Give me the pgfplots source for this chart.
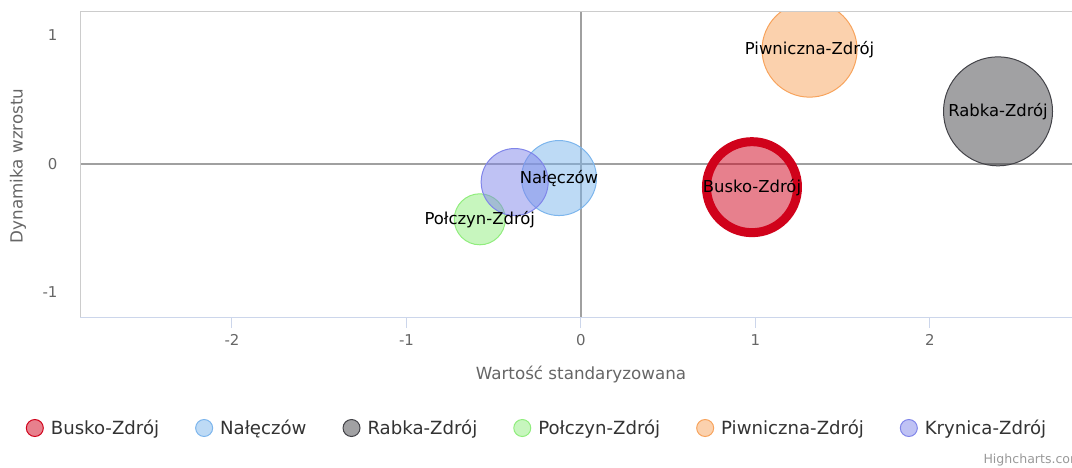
\documentclass[border=0pt]{standalone}
\usepackage{fontspec}
\setmainfont{DejaVu Sans}
\usepackage{pgfplots}
\pgfplotsset{compat=1.18}

\definecolor{busko}{RGB}{208,2,27}
\definecolor{naleczow}{RGB}{124,181,236}
\definecolor{rabka}{RGB}{67,67,72}
\definecolor{polczyn}{RGB}{144,237,125}
\definecolor{piwniczna}{RGB}{247,163,92}
\definecolor{krynica}{RGB}{128,133,233}
\definecolor{ticktext}{RGB}{102,102,102}
\definecolor{legtext}{RGB}{51,51,51}
\definecolor{frame}{RGB}{204,204,204}
\definecolor{xaxis}{RGB}{204,214,235}
\definecolor{zeroline}{RGB}{160,160,160}

\begin{document}
\begin{tikzpicture}
\path[use as bounding box] (0bp,0bp) rectangle (1072bp,468bp);
\begin{axis}[
    at={(80bp,150bp)}, anchor=south west,
    scale only axis, width=992bp, height=306bp,
    xmin=-2.871, xmax=2.814, ymin=-1.198, ymax=1.183,
    axis line style={draw=none},
    xtick={-2,-1,0,1,2}, ytick={-1,0,1},
    xtick pos=bottom, tick align=outside,
    major tick length=10bp,
    x tick style={draw=xaxis, line width=1bp},
    y tick style={draw=none},
    extra x ticks={0}, extra x tick labels={},
    extra x tick style={grid=major, major grid style={draw=zeroline, line width=2bp}, tick style={draw=none}},
    extra y ticks={0}, extra y tick labels={},
    extra y tick style={grid=major, major grid style={draw=zeroline, line width=2bp}},
    /pgf/number format/assume math mode=true,
    ticklabel style={font=\fontsize{15}{18}\selectfont, text=ticktext},
    xticklabel style={yshift=-3bp},
    yticklabel style={anchor=east, xshift=-9bp},
    xlabel={Wartość standaryzowana},
    ylabel={Dynamika wzrostu},
    every axis x label/.style={at={(axis description cs:0.505,-0.186)}, anchor=center,
        font=\fontsize{16.8}{20}\selectfont, text=ticktext},
    every axis y label/.style={at={(axis description cs:-0.0625,0.497)}, anchor=center, rotate=90,
        font=\fontsize{16.8}{20}\selectfont, text=ticktext},
    clip marker paths=true,
    legend columns=6,
    legend style={at={(axis description cs:0.4607,-0.3595)}, anchor=center,
        draw=none, fill=none, font=\fontsize{18.2}{22}\selectfont, text=legtext,
        /tikz/every even column/.append style={column sep=34bp}},
    legend image code/.code={\filldraw[line width=1bp] (0bp,0bp) circle (8.5bp);
        \path[draw=none, fill=none] (8.5bp,0bp) -- (14bp,0bp);},
]
% bubbles: x = standardized value, y = growth dynamics
\addplot[only marks, mark=*, draw=busko, fill=busko, fill opacity=0.5, line width=9bp, mark size=45.5bp]
    coordinates {(0.98,-0.18)};
\addlegendentry{Busko-Zdrój}
\addplot[only marks, mark=*, draw=naleczow, fill=naleczow, fill opacity=0.5, line width=1bp, mark size=37.5bp]
    coordinates {(-0.126,-0.109)};
\addlegendentry{Nałęczów}
\addplot[only marks, mark=*, draw=rabka, fill=rabka, fill opacity=0.5, line width=1bp, mark size=54.5bp]
    coordinates {(2.39,0.41)};
\addlegendentry{Rabka-Zdrój}
\addplot[only marks, mark=*, draw=polczyn, fill=polczyn, fill opacity=0.5, line width=1bp, mark size=25.5bp]
    coordinates {(-0.58,-0.43)};
\addlegendentry{Połczyn-Zdrój}
\addplot[only marks, mark=*, draw=piwniczna, fill=piwniczna, fill opacity=0.5, line width=1bp, mark size=47.5bp]
    coordinates {(1.31,0.89)};
\addlegendentry{Piwniczna-Zdrój}
\addplot[only marks, mark=*, draw=krynica, fill=krynica, fill opacity=0.5, line width=1bp, mark size=33.5bp]
    coordinates {(-0.38,-0.14)};
\addlegendentry{Krynica-Zdrój}
% data labels on top of all bubbles
\addplot[forget plot, only marks, mark=none, point meta=explicit symbolic,
    nodes near coords, every node near coord/.style={anchor=center, font=\fontsize{16.5}{19}\selectfont, text=black}]
    coordinates {
    (0.98,-0.18) [Busko-Zdrój]
    (-0.126,-0.109) [Nałęczów]
    (2.39,0.41) [Rabka-Zdrój]
    (-0.58,-0.43) [Połczyn-Zdrój]
    (1.31,0.89) [Piwniczna-Zdrój]
    };
\draw[frame, line width=1bp] (rel axis cs:0,0) -- (rel axis cs:0,1) -- (rel axis cs:1,1);
\draw[xaxis, line width=1bp] (rel axis cs:0,0) -- (rel axis cs:1,0);
\end{axis}
\node[anchor=west, font=\fontsize{12.6}{15}\selectfont, text={rgb,255:red,153;green,153;blue,153}] at (980bp,8bp) {Highcharts.com};
\end{tikzpicture}
\end{document}
